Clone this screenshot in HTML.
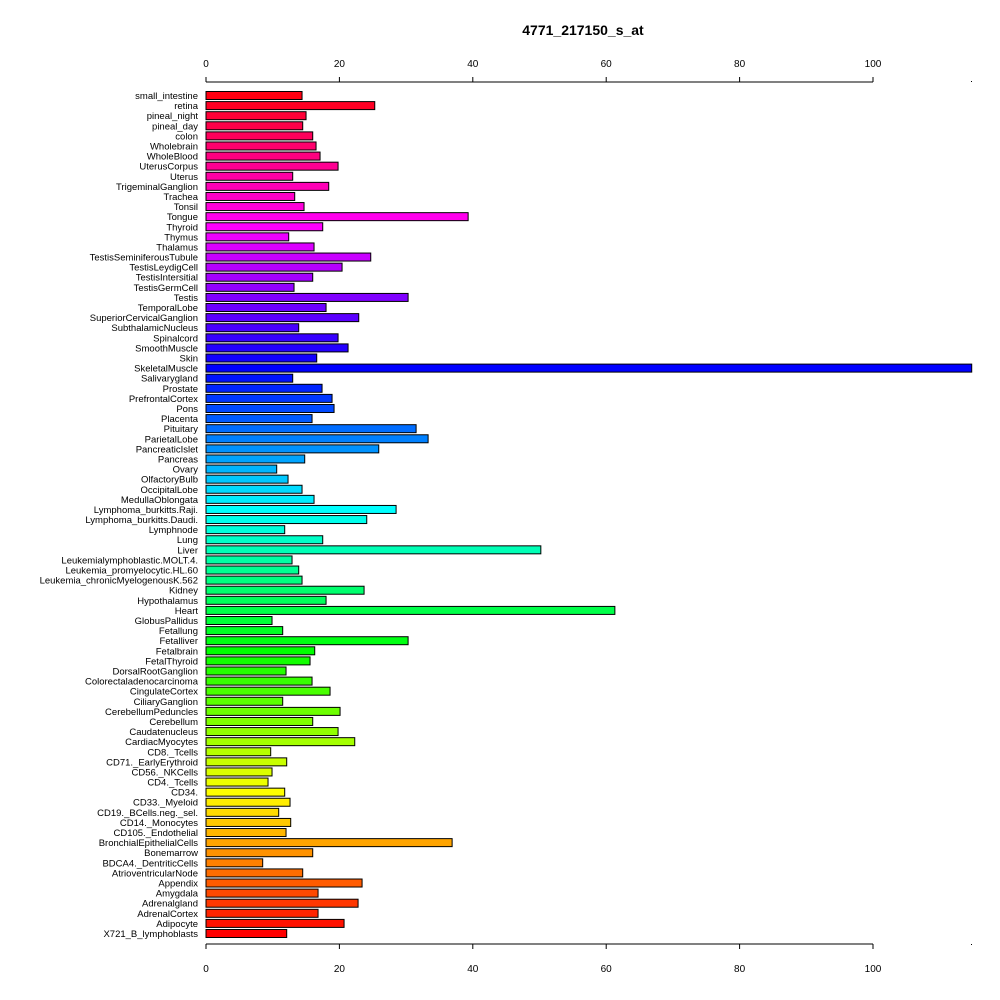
<!DOCTYPE html>
<html><head><meta charset="utf-8"><style>
html,body{margin:0;padding:0;background:#fff;}
svg{display:block;font-family:"Liberation Sans",Arial,sans-serif;}
</style></head><body>
<svg id="chart" width="1000" height="1000">
<text x="583" y="35" text-anchor="middle" font-size="14" font-weight="bold">4771_217150_s_at</text>
<g id="axes"></g><g id="bars"></g><g id="labels"></g>
</svg>
<script>
const categories=["small_intestine","retina","pineal_night","pineal_day","colon","Wholebrain","WholeBlood","UterusCorpus","Uterus","TrigeminalGanglion","Trachea","Tonsil","Tongue","Thyroid","Thymus","Thalamus","TestisSeminiferousTubule","TestisLeydigCell","TestisIntersitial","TestisGermCell","Testis","TemporalLobe","SuperiorCervicalGanglion","SubthalamicNucleus","Spinalcord","SmoothMuscle","Skin","SkeletalMuscle","Salivarygland","Prostate","PrefrontalCortex","Pons","Placenta","Pituitary","ParietalLobe","PancreaticIslet","Pancreas","Ovary","OlfactoryBulb","OccipitalLobe","MedullaOblongata","Lymphoma_burkitts.Raji.","Lymphoma_burkitts.Daudi.","Lymphnode","Lung","Liver","Leukemialymphoblastic.MOLT.4.","Leukemia_promyelocytic.HL.60","Leukemia_chronicMyelogenousK.562","Kidney","Hypothalamus","Heart","GlobusPallidus","Fetallung","Fetalliver","Fetalbrain","FetalThyroid","DorsalRootGanglion","Colorectaladenocarcinoma","CingulateCortex","CiliaryGanglion","CerebellumPeduncles","Cerebellum","Caudatenucleus","CardiacMyocytes","CD8._Tcells","CD71._EarlyErythroid","CD56._NKCells","CD4._Tcells","CD34.","CD33._Myeloid","CD19._BCells.neg._sel.","CD14._Monocytes","CD105._Endothelial","BronchialEpithelialCells","Bonemarrow","BDCA4._DentriticCells","AtrioventricularNode","Appendix","Amygdala","Adrenalgland","AdrenalCortex","Adipocyte","X721_B_lymphoblasts"];
const values=[14.4,25.3,15,14.5,16,16.5,17.1,19.8,13,18.4,13.3,14.7,39.3,17.5,12.4,16.2,24.7,20.4,16,13.2,30.3,18,22.9,13.9,19.8,21.3,16.6,114.8,13,17.4,18.9,19.2,15.9,31.5,33.3,25.9,14.8,10.6,12.3,14.4,16.2,28.5,24.1,11.8,17.5,50.2,12.9,13.9,14.4,23.7,18,61.3,9.9,11.5,30.3,16.3,15.6,12,15.9,18.6,11.5,20.1,16,19.8,22.3,9.7,12.1,9.9,9.3,11.8,12.6,10.9,12.7,12,36.9,16,8.5,14.5,23.4,16.8,22.8,16.8,20.7,12.1];
const ticks=[0,20,40,60,80,100];
const NS="http://www.w3.org/2000/svg";
const x=v=>206+v*6.67;
const y=i=>95.5+i*(933.5-95.5)/83;
const XMAX=115;
function mk(t,a,p){const e=document.createElementNS(NS,t);for(const k in a)e.setAttribute(k,a[k]);p.appendChild(e);return e;}
const ax=document.getElementById('axes'),bg=document.getElementById('bars'),lg=document.getElementById('labels');
[[82,-5,67],[944,5,972]].forEach(([ay,d,ly],k)=>{
  const l=mk('line',{x1:x(0),x2:x(100),y1:ay,y2:ay,stroke:'#000'},ax);
  
  
  ticks.forEach(t=>{
    const tl=mk('line',{x1:x(t),x2:x(t),y1:ay,y2:ay+d,stroke:'#000'},ax);
    
    
    const tx=mk('text',{x:x(t),y:ly,'text-anchor':'middle','font-size':10},ax);
    tx.textContent=t;
    
    
  });
  mk('rect',{x:971,y:ay+(k?0:-1),width:1,height:1,fill:'#000'},ax);
});
const n=categories.length;
categories.forEach((c,i)=>{
  const v=Math.min(values[i],XMAX*0.9985);
  const hue=360*(1-(i+1)/n);
  const r=mk('rect',{x:x(0),y:y(i)-4,width:x(v)-x(0),height:8,fill:`hsl(${hue},100%,50%)`,stroke:'#000','stroke-width':1},bg);
  
  
  const t=mk('text',{x:198,y:y(i)+3.5,'text-anchor':'end','font-size':9.5},lg);
  t.textContent=c;
  
  
});
</script>
</body></html>
